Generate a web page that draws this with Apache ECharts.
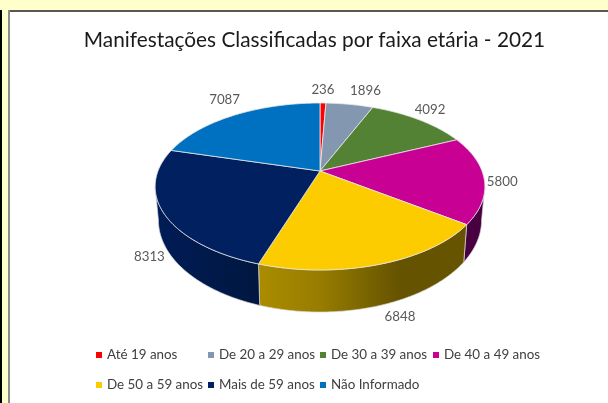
<!DOCTYPE html>
<html><head><meta charset="utf-8">
<style>html,body{margin:0;padding:0;background:#ffffcc;overflow:hidden}#c{width:608px;height:403px}</style>
<script src="https://cdn.jsdelivr.net/npm/echarts@6/dist/echarts.min.js"></script>
</head><body><div id="c"></div>
<script>
const categories = ['Até 19 anos','De 20 a 29 anos','De 30 a 39 anos','De 40 a 49 anos','De 50 a 59 anos','Mais de 59 anos','Não Informado'];
const values = [236,1896,4092,5800,6848,8313,7087];
const colors = ['#ff0000','#8497b0','#548235','#c80094','#fccb00','#002060','#0070c0'];

// Layout / style (not data)
const labelOffsets = [[0,-13],[16,-14],[11,-10],[18,2],[20,52],[-14,44],[-10,-15]];
const legendPos = [[96,347],[208,347],[320,347],[433,347],[96,377],[208,377],[320,377]];
const CX=320, CY=171, A=162, B=80.6, K=0.1856;
const CY2=203, A2=158.8, B2=88.8;
const SIL=Math.acos(-K);
const sideFill = [null,null,null,'#480040',
  {type:'linear',global:true,x:259,y:0,x2:465,y2:0,colorStops:[{offset:0,color:'#ab8c00'},{offset:0.3,color:'#977c00'},{offset:0.68,color:'#655300'},{offset:1,color:'#665400'}]},
  {type:'linear',global:true,x:157,y:0,x2:260,y2:0,colorStops:[{offset:0,color:'#001c56'},{offset:1,color:'#00173f'}]},
  null];
const total = values.reduce((a,b)=>a+b,0);
const TOP=t=>{const w=1+K*Math.cos(t);return [CX+A*Math.sin(t)/w,CY-B*Math.cos(t)/w]};
const BOT=t=>{const w=1+K*Math.cos(t);return [CX+A2*Math.sin(t)/w,CY2-B2*Math.cos(t)/w]};
function arc(f,a,b){const n=Math.max(2,Math.ceil(Math.abs(b-a)/0.012)),p=[];for(let i=0;i<=n;i++)p.push(f(a+(b-a)*i/n));return p}

function sideRender(i){return function(params,api){
  const v=api.value(0),s=api.value(1);
  let a=s/total*2*Math.PI,b=(s+v)/total*2*Math.PI;
  a=Math.max(a,SIL);b=Math.min(b,2*Math.PI-SIL);
  if(b<=a||!sideFill[i])return {type:'group',children:[]};
  const pts=arc(TOP,a,b).concat(arc(BOT,a,b).reverse());
  return {type:'polygon',shape:{points:pts},style:{fill:sideFill[i],stroke:'#d9d9d9',lineWidth:0.7}};
}}
function topRender(i){return function(params,api){
  const v=api.value(0),s=api.value(1);
  const a=s/total*2*Math.PI,b=(s+v)/total*2*Math.PI,m=(a+b)/2;
  const pts=[[CX,CY]].concat(arc(TOP,a,b));
  const p=TOP(m),o=labelOffsets[i];
  return {type:'group',children:[
    {type:'polygon',shape:{points:pts},style:{fill:colors[i],stroke:'#e8e8e8',lineWidth:0.8}},
    {type:'text',x:p[0]+o[0],y:p[1]+o[1],z2:20,style:{text:String(v),fill:'#595959',font:'13.3px Lato, "Open Sans", sans-serif',align:'center',verticalAlign:'middle'}}
  ]};
}}
let cum=0;const rows=values.map(v=>{const r=[v,cum];cum+=v;return r});

const series=[];
categories.forEach((c,i)=>series.push({type:'custom',name:c+' ',silent:true,animation:false,z:1,coordinateSystem:'none',renderItem:sideRender(i),data:[rows[i]],itemStyle:{color:colors[i]},legendHoverLink:false}));
categories.forEach((c,i)=>series.push({type:'custom',name:c,silent:true,animation:false,z:2,coordinateSystem:'none',renderItem:topRender(i),data:[rows[i]],itemStyle:{color:colors[i]}}));

const chart=echarts.init(document.getElementById('c'),null,{renderer:'canvas'});
chart.setOption({
  animation:false,
  backgroundColor:'#ffffcc',
  title:{text:'Manifestações Classificadas por faixa etária - 2021',left:309.5,top:25,textAlign:'center',
    textStyle:{fontFamily:'Lato, "Open Sans", sans-serif',fontSize:20.8,fontWeight:'normal',color:'#1a1a1a'}},
  legend:categories.map((c,i)=>({data:[c],left:legendPos[i][0],top:legendPos[i][1],padding:0,itemWidth:6,itemHeight:6,itemGap:0,icon:'rect',selectedMode:false,
    textStyle:{fontFamily:'Lato, "Open Sans", sans-serif',fontSize:13.4,color:'#404040',padding:0,lineHeight:16}})),
  graphic:[
    {type:'rect',z:-10,silent:true,shape:{x:0,y:10,width:2,height:393},style:{fill:'#000000'}},
    {type:'rect',z:-10,silent:true,shape:{x:8,y:10,width:600,height:393},style:{fill:'#ffffff'}},
    {type:'rect',z:-9,silent:true,shape:{x:8,y:10,width:600,height:2},style:{fill:'#585858'}},
    {type:'rect',z:-9,silent:true,shape:{x:8,y:10,width:2,height:393},style:{fill:'#8c8c8c'}}
  ],
  series
});
</script></body></html>
